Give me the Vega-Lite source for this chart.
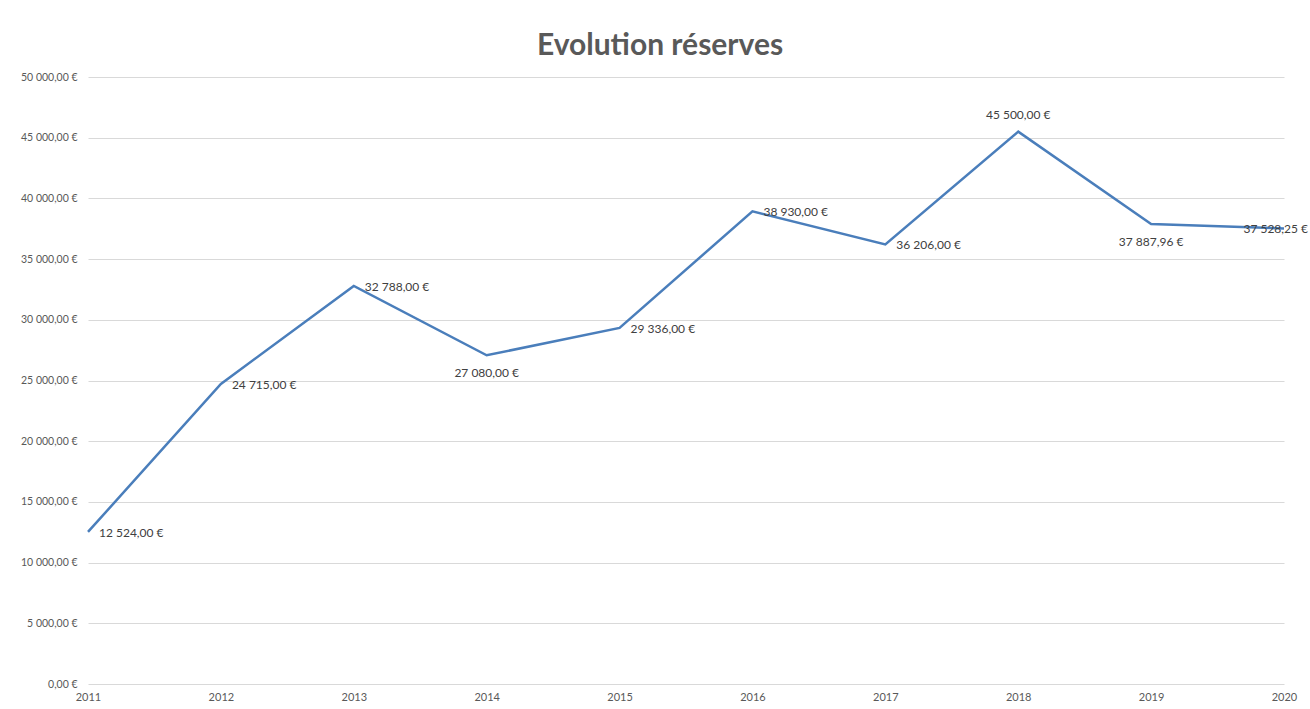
{
  "$schema": "https://vega.github.io/schema/vega-lite/v6.json",
  "width": 1196,
  "height": 607,
  "autosize": "none",
  "padding": {"left": 88, "top": 77, "right": 26, "bottom": 25},
  "background": "white",
  "config": {
    "locale": {
      "number": {"decimal": ",", "thousands": "\u00a0", "grouping": [3], "currency": ["", "\u00a0€"]}
    },
    "view": {"stroke": null},
    "font": "Lato"
  },
  "title": {
    "text": "Evolution réserves",
    "font": "Lato",
    "fontSize": 30,
    "fontWeight": "bold",
    "color": "#595959",
    "anchor": "middle",
    "baseline": "bottom",
    "offset": -19,
    "dx": -26
  },
  "data": {
    "values": [
      {"year": "2011", "value": 12524},
      {"year": "2012", "value": 24715},
      {"year": "2013", "value": 32788},
      {"year": "2014", "value": 27080},
      {"year": "2015", "value": 29336},
      {"year": "2016", "value": 38930},
      {"year": "2017", "value": 36206},
      {"year": "2018", "value": 45500},
      {"year": "2019", "value": 37887.96},
      {"year": "2020", "value": 37528.25}
    ]
  },
  "encoding": {
    "x": {
      "field": "year",
      "type": "ordinal",
      "scale": {"type": "point", "padding": 0},
      "axis": {
        "title": null,
        "labelAngle": 0,
        "ticks": false,
        "domain": false,
        "labelFontSize": 11,
        "labelColor": "#595959",
        "labelPadding": 7,
        "grid": false
      }
    },
    "y": {
      "field": "value",
      "type": "quantitative",
      "scale": {"domain": [0, 50000], "nice": false},
      "axis": {
        "title": null,
        "values": [0, 5000, 10000, 15000, 20000, 25000, 30000, 35000, 40000, 45000, 50000],
        "format": "$,.2f",
        "ticks": false,
        "domain": false,
        "labelFontSize": 10.5,
        "labelColor": "#595959",
        "labelPadding": 11,
        "gridColor": "#d9d9d9",
        "gridWidth": 1
      }
    }
  },
  "layer": [
    {
      "mark": {"type": "line", "color": "#4a7ebb", "strokeWidth": 2.5}
    },
    {
      "transform": [{"filter": {"field": "year", "oneOf": ["2011", "2012", "2013", "2015", "2016", "2017"]}}],
      "mark": {"type": "text", "align": "left", "baseline": "middle", "dx": 11, "dy": 1, "fontSize": 12, "color": "#404040"},
      "encoding": {"text": {"field": "value", "type": "quantitative", "format": "$,.2f"}}
    },
    {
      "transform": [{"filter": {"field": "year", "oneOf": ["2014", "2019"]}}],
      "mark": {"type": "text", "align": "center", "baseline": "middle", "dy": 18, "fontSize": 12, "color": "#404040"},
      "encoding": {"text": {"field": "value", "type": "quantitative", "format": "$,.2f"}}
    },
    {
      "transform": [{"filter": {"field": "year", "oneOf": ["2018"]}}],
      "mark": {"type": "text", "align": "center", "baseline": "middle", "dy": -17, "fontSize": 12, "color": "#404040"},
      "encoding": {"text": {"field": "value", "type": "quantitative", "format": "$,.2f"}}
    },
    {
      "transform": [{"filter": {"field": "year", "oneOf": ["2020"]}}],
      "mark": {"type": "text", "align": "right", "baseline": "middle", "dx": 24, "dy": 1, "fontSize": 12, "color": "#404040"},
      "encoding": {"text": {"field": "value", "type": "quantitative", "format": "$,.2f"}}
    }
  ]
}
